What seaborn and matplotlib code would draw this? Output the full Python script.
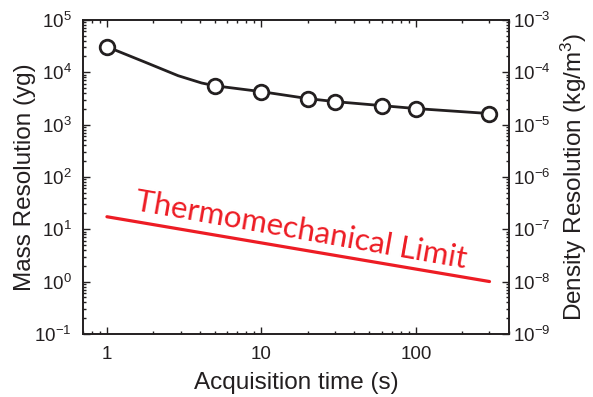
import numpy as np
import pandas as pd
import matplotlib
matplotlib.use("Agg")
import matplotlib.pyplot as plt
import matplotlib.ticker as mticker
import seaborn as sns

# measured points
acq_time = [1, 5, 10, 20, 30, 60, 100, 300]
mass_res = [30600, 5500, 4250, 3130, 2740, 2300, 2020, 1620]

# fitted curve
fit_time = [1, 1.76, 2.89, 4.1, 5, 10, 20, 30, 60, 100, 300]
fit_mass = [30600, 15600, 8570, 6220, 5500, 4250, 3130, 2740, 2300, 2020, 1620]

# thermomechanical limit line
limit_time = [1, 300]
limit_mass = [17.3, 1.0]

LABEL_TEXT = "Thermomechanical Limit"
RED = "#ED1C24"
INK = "#231F20"

sns.set_theme(style="ticks")
plt.rcParams["font.family"] = ["Liberation Sans", "DejaVu Sans"]
plt.rcParams["mathtext.default"] = "regular"
plt.rcParams["axes.edgecolor"] = INK
plt.rcParams["xtick.color"] = INK
plt.rcParams["ytick.color"] = INK

points_df = pd.DataFrame({"t": acq_time, "m": mass_res})
fit_df = pd.DataFrame({"t": fit_time, "m": fit_mass})
limit_df = pd.DataFrame({"t": limit_time, "m": limit_mass})

fig = plt.figure(figsize=(5.93, 3.97), dpi=100)
ax = fig.add_axes([0.14, 0.159, 0.718, 0.791])

sns.lineplot(data=limit_df, x="t", y="m", ax=ax, color=RED, linewidth=2.3)
sns.lineplot(data=fit_df, x="t", y="m", ax=ax, color=INK, linewidth=2.0)
ax.plot(points_df["t"], points_df["m"], linestyle="none", marker="o",
        markersize=10.5, markerfacecolor="white", markeredgecolor=INK,
        markeredgewidth=2.0, zorder=5)

ax.set_xscale("log")
ax.set_yscale("log")
ax.set_xlim(0.7, 400)
ax.set_ylim(1e-1, 1e5)

def pow_fmt(v, pos):
    return r"$10^{%d}$" % int(round(np.log10(v)))

ax.yaxis.set_major_locator(mticker.LogLocator(base=10, numticks=10))
ax.yaxis.set_major_formatter(mticker.FuncFormatter(pow_fmt))
ax.yaxis.set_minor_locator(mticker.LogLocator(base=10, subs=np.arange(2, 10), numticks=20))
ax.yaxis.set_minor_formatter(mticker.NullFormatter())
ax.xaxis.set_major_locator(mticker.FixedLocator([1, 10, 100]))
ax.xaxis.set_major_formatter(mticker.FuncFormatter(lambda v, p: "%g" % v))
ax.xaxis.set_minor_locator(mticker.LogLocator(base=10, subs=np.arange(2, 10), numticks=20))
ax.xaxis.set_minor_formatter(mticker.NullFormatter())

ax.tick_params(which="both", direction="in", top=True, right=False,
               labelsize=13.5, width=1.0)
ax.tick_params(axis="x", pad=9)
ax.tick_params(axis="y", pad=8)
ax.tick_params(which="major", length=5)
ax.tick_params(which="minor", length=2.5)

ax.set_xlabel("Acquisition time (s)", fontsize=17.5, color=INK, labelpad=6)
ax.set_ylabel("Mass Resolution (yg)", fontsize=17.5, color=INK, labelpad=-1)

ax2 = ax.twinx()
ax2.set_yscale("log")
ax2.set_ylim(1e-9, 1e-3)
ax2.yaxis.set_major_locator(mticker.LogLocator(base=10, numticks=10))
ax2.yaxis.set_major_formatter(mticker.FuncFormatter(pow_fmt))
ax2.yaxis.set_minor_locator(mticker.LogLocator(base=10, subs=np.arange(2, 10), numticks=20))
ax2.yaxis.set_minor_formatter(mticker.NullFormatter())
ax2.tick_params(which="both", direction="in", labelsize=13.5, width=1.0, pad=3)
ax2.tick_params(which="major", length=5)
ax2.tick_params(which="minor", length=2.5)
ax2.set_ylabel("Density Resolution (kg/m$^{3}$)", fontsize=17.5, color=INK, labelpad=6)

for a in (ax, ax2):
    for s in a.spines.values():
        s.set_linewidth(1.2)

ax.text(1.5, 23, LABEL_TEXT, color=RED, fontsize=22.5, family=["Lato", "DejaVu Sans"],
        rotation=-10, rotation_mode="anchor", ha="left", va="baseline")

fig.savefig("out.png", dpi=100)
